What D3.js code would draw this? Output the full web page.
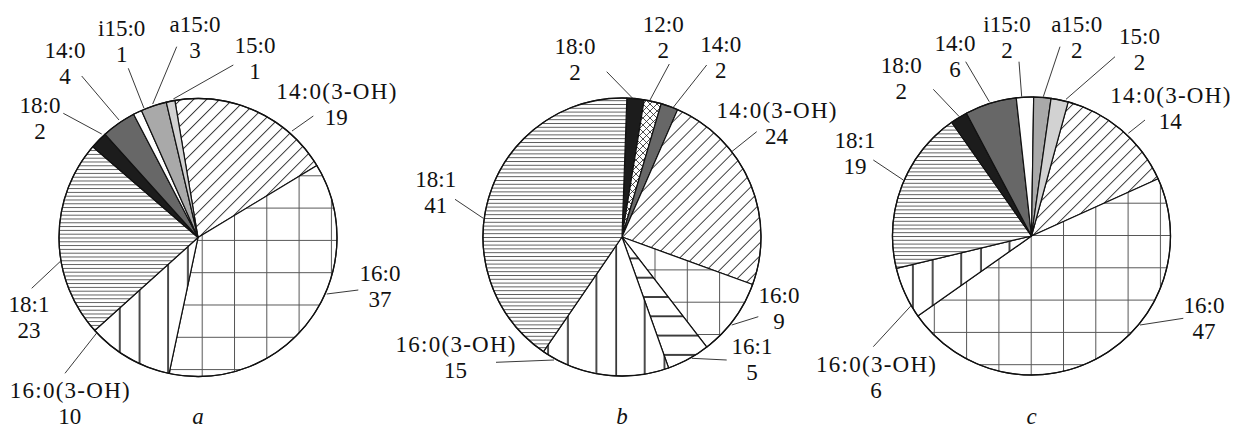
<!DOCTYPE html>
<html><head><meta charset="utf-8">
<script src="https://cdn.jsdelivr.net/npm/d3@7"></script>
<style>
body{margin:0;background:#fff}
svg{display:block}
</style></head><body>
<svg id="chart" width="1234" height="429"></svg>
<script>
// ---- data ----
const labelsA = ["14:0(3-OH)","16:0","16:0(3-OH)","18:1","18:0","14:0","i15:0","a15:0","15:0"];
const valuesA = [19,37,10,23,2,4,1,3,1];
const labelsB = ["18:0","12:0","14:0","14:0(3-OH)","16:0","16:1","16:0(3-OH)","18:1"];
const valuesB = [2,2,2,24,9,5,15,41];
const labelsC = ["14:0(3-OH)","16:0","16:0(3-OH)","18:1","18:0","14:0","i15:0","a15:0","15:0"];
const valuesC = [14,47,6,19,2,6,2,2,2];
const panelNames = ["a","b","c"];

const FONT = "Liberation Serif";

// ---- layout (positions relative to each pie centre) ----
const panels = [
  {labels:labelsA, values:valuesA, cx:198, cy:237.5, start:-9.6,
   gridX:198, gridY:196.7, vX:115,
   ann:{"14:0(3-OH)":[138.3,-138.5,115.3,-121.5,94,-106.5],
        "16:0":[182,43.2,160.3,52.5,128.7,56.5],
        "16:0(3-OH)":[-128.3,160.8,-133,135.8,-101.3,95.5],
        "18:1":[-169,74.2,-166.3,50.8,-138,24.2],
        "18:0":[-158,-124.2,-134.7,-124.2,-96.3,-103.5],
        "14:0":[-133,-179.2,-116.3,-161.5,-79,-117.5],
        "i15:0":[-76.3,-202,-69.7,-169.2,-54,-129.2],
        "a15:0":[-3,-205.2,-21.3,-190.8,-45.3,-133.5],
        "15:0":[57,-184.2,35.3,-172.5,-24.7,-138.5]}},
  {labels:labelsB, values:valuesB, cx:622, cy:237, start:2,
   gridX:646.7, gridY:259, vX:554, hY:272.3,
   ann:{"18:0":[-47,-183.5,-15.3,-165.3,10.7,-138.7],
        "12:0":[41.3,-204.7,47.3,-173,28,-137],
        "14:0":[98.8,-184.7,84.7,-172,51.3,-129.7],
        "14:0(3-OH)":[154.5,-118.7,134.7,-105.3,109.7,-85.3],
        "16:0":[157,65.7,136.3,79.7,109.7,88],
        "16:1":[130,117.3,104.7,123,69.7,121.3],
        "16:0(3-OH)":[-166.5,114.7,-126,125.3,-68,123],
        "18:1":[-186.2,-49.7,-167,-37.7,-138.7,-18.7]}},
  {labels:labelsC, values:valuesC, cx:1031.5, cy:236, start:15.3,
   gridX:1001, gridY:193.3, vX:944,
   ann:{"i15:0":[-24.5,-203.7,-12.5,-174.3,-9.8,-139.3],
        "a15:0":[45.2,-203.7,28.5,-189.3,11.8,-139.3],
        "15:0":[108,-192,83.5,-179.3,34.5,-136.7],
        "14:0":[-76.5,-185.5,-65.8,-174.3,-42.2,-134.3],
        "18:0":[-130.2,-163.3,-98.2,-146.7,-72.2,-119.3],
        "14:0(3-OH)":[138.8,-133.3,113.5,-116,96.8,-102.7],
        "18:1":[-176.5,-87.7,-158.2,-76,-128.2,-56],
        "16:0":[172.5,76.7,151.8,82.3,108.5,89],
        "16:0(3-OH)":[-155.5,135.7,-158.2,110.7,-119.8,69]}}
];
const R = 139;

const svg = d3.select("#chart");
const defs = svg.append("defs");

function pattern(id, w, h, x, y, transform, draw){
  const p = defs.append("pattern").attr("id",id).attr("patternUnits","userSpaceOnUse")
    .attr("width",w).attr("height",h).attr("x",x).attr("y",y);
  if(transform) p.attr("patternTransform",transform);
  p.append("rect").attr("width",w).attr("height",h).attr("fill","#fff");
  draw(p);
}
function line(p,x1,y1,x2,y2,sw,col){
  p.append("line").attr("x1",x1).attr("y1",y1).attr("x2",x2).attr("y2",y2)
   .attr("stroke",col||"#111").attr("stroke-width",sw);
}

panels.forEach((P,i)=>{
  pattern("grid"+i, 32.3, 32.3, P.gridX-0.5, P.gridY-0.5, null, p=>{
    line(p,0.5,0,0.5,32.3,1,"#555"); line(p,0,0.5,32.3,0.5,1,"#555");
  });
  pattern("vert"+i, 48.3, 10, P.vX-1, 0, null, p=>{
    line(p,1,0,1,10,1.5); line(p,20.8,0,20.8,10,1.5);
  });
});
pattern("horiz", 10, 3.8, 0, 0, null, p=>{ line(p,0,0.5,10,0.5,0.8,"#333"); });
pattern("diag", 9.2, 10, 0, 0, "rotate(45)", p=>{ line(p,0.5,0,0.5,10,0.9,"#222"); });
pattern("cross", 7, 7, 0, 0, null, p=>{
  line(p,0,0,7,7,0.8,"#222"); line(p,0,7,7,0,0.8,"#222");
});
pattern("h161", 10, 19.3, 0, panels[1].hY-1, null, p=>{ line(p,0,1,10,1,1.6); });

function fillFor(name, i){
  switch(name){
    case "14:0(3-OH)": return "url(#diag)";
    case "16:0": return "url(#grid"+i+")";
    case "16:0(3-OH)": return "url(#vert"+i+")";
    case "18:1": return "url(#horiz)";
    case "18:0": return "#1c1c1c";
    case "14:0": return "#676767";
    case "i15:0": return "#ffffff";
    case "a15:0": return "#a9a9a9";
    case "15:0": return "#d2d2d2";
    case "12:0": return "url(#cross)";
    case "16:1": return "url(#h161)";
  }
  return "#fff";
}

const arc = d3.arc().innerRadius(0).outerRadius(R);

function txt(g,x,y,s){
  return g.append("text").attr("x",x).attr("y",y).attr("text-anchor","middle")
    .style("font-family",FONT).attr("font-size",23).attr("fill","#111").text(s);
}

panels.forEach((P,i)=>{
  const g = svg.append("g").attr("transform",`translate(${P.cx},${P.cy})`);
  const rad = P.start*Math.PI/180;
  const pie = d3.pie().sort(null).value(d=>d.v).startAngle(rad).endAngle(rad+2*Math.PI);
  const data = pie(P.labels.map((l,k)=>({l, v:P.values[k]})));
  g.selectAll("path.slice").data(data).join("path").attr("class","slice")
    .attr("d",arc).attr("fill",d=>fillFor(d.data.l,i))
    .attr("stroke","#111").attr("stroke-width",1.2).attr("stroke-linejoin","round");
  g.append("circle").attr("r",R).attr("fill","none").attr("stroke","#111").attr("stroke-width",1.3);

  data.forEach(d=>{
    const a = P.ann[d.data.l];
    if(!a) return;
    g.append("line").attr("x1",a[2]).attr("y1",a[3]).attr("x2",a[4]).attr("y2",a[5])
      .attr("stroke","#222").attr("stroke-width",0.9);
    const t1 = txt(g,a[0],a[1],d.data.l);
    if(d.data.l.indexOf("(")>=0) t1.attr("textLength",120).attr("lengthAdjust","spacing");
    txt(g,a[0],a[1]+26,d.data.v);
  });
  txt(svg,P.cx,424,panelNames[i]).style("font-style","italic");
});
</script>
</body></html>
